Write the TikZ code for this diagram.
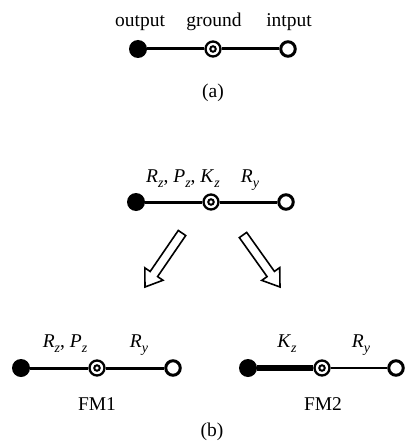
\documentclass[tikz,border=0pt]{standalone}
\usepackage{fontspec}
\usetikzlibrary{calc}
\setmainfont{Liberation Serif}
\newcommand\vsub[2]{\textit{#1}\raisebox{-0.3em}{\fontsize{14}{14}\selectfont\textit{#2}}}
\newcommand\blockarr[3]{% tail, tip, headlength
  \coordinate (hb) at ($(#1)!#3!(#2)$);
  \draw[blockarrow]
    ($(#1)!4.5pt!90:(#2)$) -- ($(hb)!4.5pt!-90:(#1)$) -- ($(hb)!11pt!-90:(#1)$) -- (#2)
    -- ($(hb)!11pt!90:(#1)$) -- ($(hb)!4.5pt!90:(#1)$) -- ($(#1)!4.5pt!-90:(#2)$) -- cycle;}
\begin{document}
\begin{tikzpicture}[x=1pt,y=1pt,
  lbl/.style={inner sep=0pt, anchor=base, font=\fontsize{19.5}{22}\selectfont},
  outnode/.style={circle, fill=black, minimum size=18pt, inner sep=0pt},
  innode/.style={circle, draw=black, fill=white, line width=3pt, minimum size=14.5pt, inner sep=0pt},
  gndnode/.style={circle, draw=black, fill=white, line width=2.3pt, minimum size=15pt, inner sep=0pt},
  gndin/.style={circle, draw=black, fill=white, line width=2pt, minimum size=5.5pt, inner sep=0pt},
  link/.style={line width=3pt},
  blockarrow/.style={draw=black, fill=white, line width=1.6pt, line join=miter}
]
\useasboundingbox (0,0) rectangle (405,-441);

% ---- (a)
\node[outnode] (aout) at (138,-49) {};
\node[gndnode] (agnd) at (213,-49) {};
\node[gndin] (agndi) at (213,-49) {};
\node[innode] (ain) at (288,-49) {};
\draw[link] (aout) -- (agnd);
\draw[link] (agnd) -- (ain);
\node[lbl] (laout) at (140,-27) {output};
\node[lbl] (lagnd) at (214,-27) {ground};
\node[lbl] (lain) at (289,-27) {intput};
\node[lbl] (capa) at (213,-98) {(a)};

% ---- (b) top
\node[outnode] (bout) at (136,-202) {};
\node[gndnode] (bgnd) at (211,-202) {};
\node[gndin] (bgndi) at (211,-202) {};
\node[innode] (bin) at (286,-202) {};
\draw[link] (bout) -- (bgnd);
\draw[link] (bgnd) -- (bin);
\node[lbl] (lb1) at (183,-182) {\vsub{R}{z}, \vsub{P}{z}, \vsub{K}{z}};
\node[lbl] (lb2) at (250,-182) {\vsub{R}{y}};

% ---- block arrows
\coordinate (lat) at (182,-233);
\coordinate (lah) at (145,-287);
\coordinate (rat) at (243,-235);
\coordinate (rah) at (280,-287);
\blockarr{lat}{lah}{0.76}
\blockarr{rat}{rah}{0.75}

% ---- FM1
\node[outnode] (cout) at (21,-368) {};
\node[gndnode] (cgnd) at (97,-368) {};
\node[gndin] (cgndi) at (97,-368) {};
\node[innode] (cin) at (173,-368) {};
\draw[link] (cout) -- (cgnd);
\draw[link] (cgnd) -- (cin);
\node[lbl] (lc1) at (65,-347) {\vsub{R}{z}, \vsub{P}{z}};
\node[lbl] (lc2) at (139,-347) {\vsub{R}{y}};
\node[lbl] (fm1) at (97,-410) {FM1};

% ---- FM2
\node[outnode] (dout) at (248,-368) {};
\node[gndnode] (dgnd) at (322,-368) {};
\node[gndin] (dgndi) at (322,-368) {};
\node[innode] (din) at (396,-368) {};
\draw[line width=6pt] (dout) -- (dgnd);
\draw[line width=2.5pt] (dgnd) -- (din);
\node[lbl] (ld1) at (287,-347) {\vsub{K}{z}};
\node[lbl] (ld2) at (361,-347) {\vsub{R}{y}};
\node[lbl] (fm2) at (323,-410) {FM2};

\node[lbl] (capb) at (212,-436) {(b)};
\end{tikzpicture}
\end{document}
